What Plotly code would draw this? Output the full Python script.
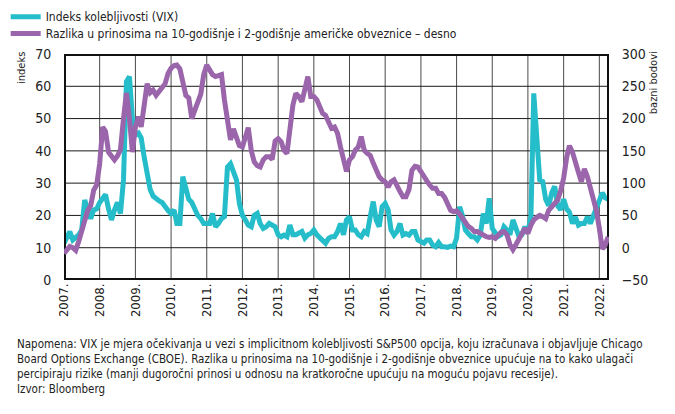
import pandas as pd
import plotly.graph_objects as go

months = pd.date_range("2007-01-01", "2022-04-01", freq="MS").strftime("%Y-%m-%d").tolist()

vix = [
    11.3, 13, 15, 12.4, 13, 14, 15.5, 24.8, 22, 19, 21.7, 22,          # 2007
    24, 25.5, 26.5, 22, 18.6, 21.7, 24, 20.6, 31, 61.5, 63, 50,         # 2008
    45, 45.5, 44, 38, 33, 28, 26, 25, 24.5, 24, 22.5, 21.5,             # 2009
    20.6, 21.7, 17.5, 17.5, 32, 28, 25, 24, 22, 20, 19, 17.5,           # 2010
    17.5, 17.5, 20.6, 16.5, 17.5, 19, 19.6, 35, 36, 33, 31, 23.7,       # 2011
    20, 18.6, 17, 16.5, 20, 20.6, 17.5, 16, 16.5, 17.5, 17, 16.5,       # 2012
    14, 13.4, 13.9, 13.4, 17, 14, 14, 14.4, 15, 13, 14, 14.4,           # 2013
    15.5, 14, 13, 12, 11.4, 12.9, 13.4, 13.4, 15, 17.5, 14, 18.6,       # 2014
    19.6, 15.5, 15.5, 14, 13.4, 15, 14.4, 19.6, 24.3, 18.6, 16.5, 22.7, # 2015
    23.7, 21.7, 15.5, 13.9, 15, 17.5, 13.9, 14.4, 13.9, 15, 15, 12.4,   # 2016
    11.9, 11.4, 12.4, 12.4, 10.8, 10.3, 11.6, 10.3, 10.3, 10.1, 10.5, 10.3,  # 2017
    13, 22.7, 20, 15.5, 14.4, 13.4, 13.4, 12.4, 13.9, 20.6, 17.5, 25.3, # 2018
    16, 14.5, 13.5, 14, 16.5, 15.5, 14, 18.6, 16, 13.5, 14, 16.5,       # 2019
    15, 19.6, 57.8, 42, 31, 30.5, 25, 23, 27, 29, 23, 21.7,             # 2020
    25, 22, 21, 17.5, 19.5, 17, 17.5, 17.5, 19.6, 17.5, 20, 22,         # 2021
    24, 27, 25.5, 25,                                                   # 2022
]

spread = [
    -9, -4, 2, 0, -4, 10, 25, 45, 58, 65, 89, 97,                       # 2007
    130, 187, 180, 148, 143, 136, 142, 152, 200, 240, 200, 148,         # 2008
    187, 203, 187, 229, 254, 240, 244, 236, 243, 248, 254, 270,         # 2009
    278, 282, 283, 277, 254, 236, 232, 200, 213, 228, 238, 268,         # 2010
    283, 275, 268, 265, 266, 268, 229, 190, 167, 184, 170, 158,         # 2011
    156, 172, 186, 150, 133, 127, 125, 136, 141, 141, 137, 165,         # 2012
    169, 164, 151, 146, 192, 221, 239, 234, 226, 249, 265, 234,         # 2013
    234, 229, 218, 208, 205, 195, 185, 187, 177, 156, 136, 118,         # 2014
    136, 141, 151, 156, 172, 151, 146, 143, 131, 120, 110, 105,         # 2015
    102, 94, 102, 105, 94, 87, 79, 79, 90, 120, 126, 125,               # 2016
    118, 112, 104, 97, 92, 92, 84, 84, 78, 68, 58, 56,                  # 2017
    57, 52, 45, 38, 33, 30, 25, 25, 22, 20, 17, 16,                     # 2018
    17, 14.5, 20, 24, 25, 20, 5, -3, 5, 15, 22, 30,                     # 2019
    22, 35, 43, 47, 50, 48, 45, 58, 64, 71, 74, 88,                     # 2020
    108, 140, 158, 148, 135, 117, 102, 122, 110, 92, 80, 58,            # 2021
    30, -2, 4, 17,                                                      # 2022
]

years = list(range(2007, 2023))
year_ticks = [f"{y}-01-01" for y in years]
year_labels = [f"{y}." for y in years]

left_ticks = [0, 10, 20, 30, 40, 50, 60, 70]
right_ticks = [-50, 0, 50, 100, 150, 200, 250, 300]

X_START, X_END = "2007-01-01", "2022-04-10"
Y_MIN, Y_MAX = 0, 70

FONT = "DejaVu Sans Condensed, Liberation Sans Narrow, Roboto, sans-serif"
TEAL = "#24BDC9"
PURPLE = "#9A65AA"
INK = "#222222"

fig = go.Figure()

# grid lines (drawn as lines on the chart's own axes)
vx, vy = [], []
for t in year_ticks:
    vx += [t, t, None]
    vy += [Y_MIN, Y_MAX, None]
fig.add_trace(go.Scatter(x=vx, y=vy, mode="lines", line=dict(color="#4a4a4a", width=1),
                         showlegend=False, hoverinfo="skip", xaxis="x", yaxis="y"))
hx, hy = [], []
for v in left_ticks:
    hx += [X_START, X_END, None]
    hy += [v, v, None]
fig.add_trace(go.Scatter(x=hx, y=hy, mode="lines", line=dict(color="#1a1a1a", width=1),
                         showlegend=False, hoverinfo="skip", xaxis="x", yaxis="y"))

fig.add_trace(go.Scatter(x=months, y=vix, mode="lines", name="Indeks kolebljivosti (VIX)",
                         line=dict(color=TEAL, width=5), xaxis="x", yaxis="y",
                         legend="legend"))
fig.add_trace(go.Scatter(x=months, y=spread, mode="lines",
                         name="Razlika u prinosima na 10-godišnje i 2-godišnje američke obveznice – desno",
                         line=dict(color=PURPLE, width=5), xaxis="x", yaxis="y2",
                         legend="legend2"))

# plot frame
fig.add_trace(go.Scatter(x=[X_START, X_END, X_END, X_START, X_START],
                         y=[Y_MIN, Y_MIN, Y_MAX, Y_MAX, Y_MIN], mode="lines",
                         line=dict(color="#111111", width=4),
                         showlegend=False, hoverinfo="skip", xaxis="x", yaxis="y"))

leg_common = dict(xanchor="left", yanchor="middle", orientation="v",
                  font=dict(family=FONT, size=12, color=INK),
                  bgcolor="rgba(0,0,0,0)", borderwidth=0, itemwidth=30)

fig.update_layout(
    template="none",
    width=675, height=414,
    margin=dict(l=64, r=66, t=54, b=134, pad=0, autoexpand=False),
    paper_bgcolor="white", plot_bgcolor="rgba(0,0,0,0)",
    font=dict(family=FONT, size=12, color=INK),
    showlegend=True,
    legend=dict(x=-0.107, y=1.165, **leg_common),
    legend2=dict(x=-0.107, y=1.091, **leg_common),
    xaxis=dict(
        type="date", range=[X_START, X_END],
        tickmode="array", tickvals=year_ticks, ticktext=year_labels, tickangle=-90,
        showgrid=False, showline=False, zeroline=False, ticks="",
        tickfont=dict(family=FONT, size=13, color=INK),
    ),
    yaxis=dict(
        range=[Y_MIN, Y_MAX], tickmode="array", tickvals=left_ticks,
        showgrid=False, showline=False, zeroline=False,
        ticks="outside", ticklen=9, tickcolor="rgba(0,0,0,0)",
        tickfont=dict(family=FONT, size=14, color=INK),
    ),
    yaxis2=dict(
        range=[-50, 300], tickmode="array", tickvals=right_ticks,
        overlaying="y", side="right", showgrid=False, zeroline=False, showline=False,
        ticks="outside", ticklen=9, tickcolor="rgba(0,0,0,0)",
        tickfont=dict(family=FONT, size=14, color=INK),
    ),
)

fig.add_annotation(text="indeks", xref="paper", yref="paper", x=-0.078, y=1.02,
                   xanchor="center", yanchor="top", textangle=-90, showarrow=False,
                   font=dict(family=FONT, size=11, color=INK))
fig.add_annotation(text="bazni bodovi", xref="paper", yref="paper", x=1.083, y=1.02,
                   xanchor="center", yanchor="top", textangle=-90, showarrow=False,
                   font=dict(family=FONT, size=11, color=INK))

note = ("Napomena: VIX je mjera očekivanja u vezi s implicitnom kolebljivosti S&P500 opcija, koju izračunava i objavljuje Chicago<br>"
        "Board Options Exchange (CBOE). Razlika u prinosima na 10-godišnje i 2-godišnje obveznice upućuje na to kako ulagači<br>"
        "percipiraju rizike (manji dugoročni prinosi u odnosu na kratkoročne upućuju na moguću pojavu recesije).<br>"
        "Izvor: Bloomberg")
fig.add_annotation(text=note, xref="paper", yref="paper", x=-0.09, y=-0.245,
                   xanchor="left", yanchor="top", align="left", showarrow=False,
                   font=dict(family=FONT, size=11.5, color=INK))

fig.write_html("out.html", config={"displayModeBar": False},
               post_script="document.body.style.margin='0';")
